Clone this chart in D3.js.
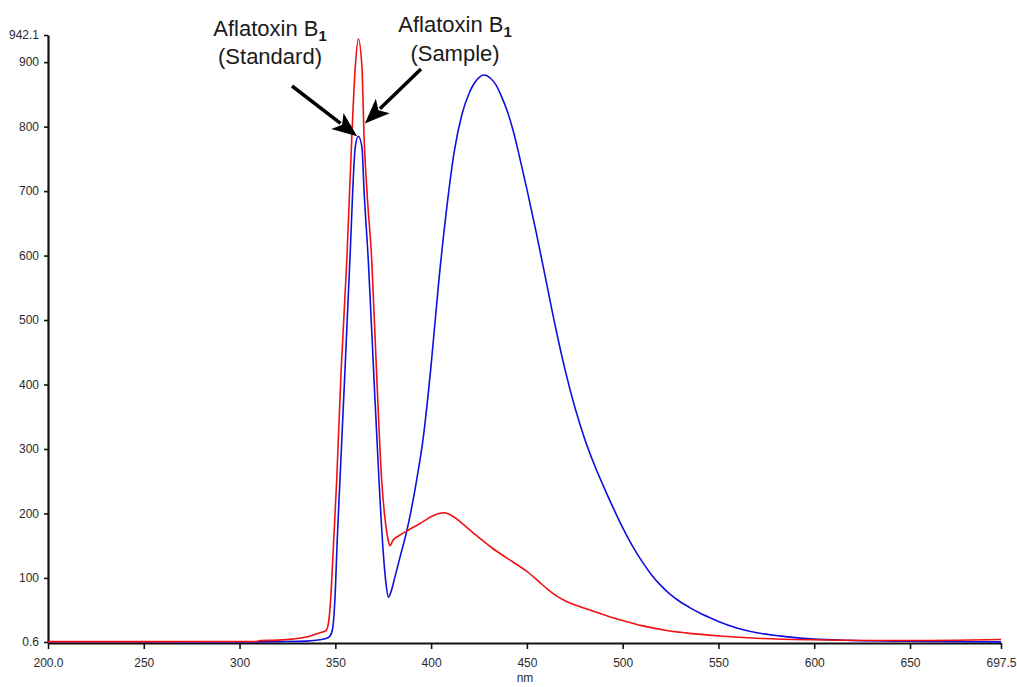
<!DOCTYPE html>
<html>
<head>
<meta charset="utf-8">
<script src="https://cdn.jsdelivr.net/npm/d3@7"></script>
<style>
    body { margin: 0; background: #fff; }
    svg { display: block; }
    .tick text { font-family: "Liberation Sans", Arial, sans-serif; font-size: 12px; fill: #2a2a2a; }
</style>
</head>
<body>
<div id="chart"></div>
<script>
// red trace (sample)
const sampleNm = [200, 250, 300, 309, 311, 320, 330, 337, 342, 345, 346, 347, 348, 349, 350.7, 353, 356, 358.6, 360.4, 362,
    363.9, 365, 366.5, 369, 371.5, 374.2, 376, 377.5, 378.5, 380, 383, 388, 394, 400, 404, 407, 410, 414, 418, 422,
    426, 432, 440, 450, 456, 461, 466, 471, 477, 484, 492, 500, 510, 523, 535, 551, 570, 600, 630, 660, 690, 697.5];
const sampleVal = [1.2, 1.2, 1.3, 1.4, 2.8, 3.5, 6, 10, 15, 18, 24, 45, 90, 150, 251, 420, 593, 784, 892, 936,
    892, 784, 700, 593, 420, 251, 190, 160, 150, 158, 165, 174, 184, 195, 200, 201, 198, 190, 180, 170,
    160, 146, 130, 110, 95, 82, 71, 63, 56, 49, 41, 34, 26, 18.5, 14, 10, 6.5, 4, 3, 3, 4, 4.5];

// blue trace (standard)
const standardNm = [200, 300, 310, 320, 335, 342, 345, 347, 348.5, 350, 351, 352.4, 355, 357.6, 360.4, 362, 363.9, 365, 367.2, 370,
    372.8, 375, 376.5, 377.7, 379, 381, 384, 387, 392.4, 396, 400, 404, 408, 412, 416, 420, 424, 427.6, 431, 434,
    437, 440, 443, 446, 450, 455, 460, 465, 470, 475, 480, 485, 490, 495, 500, 505, 510, 515, 520, 525,
    530, 535, 540, 545, 550, 560, 570, 585, 600, 620, 650, 680, 697.5];
const standardVal = [0.6, 0.6, 0.8, 1.2, 2, 4, 6, 9, 20, 80, 160, 251, 420, 593, 768, 785, 768, 700, 593, 420,
    251, 140, 90, 70, 78, 100, 135, 169, 251, 320, 430, 560, 670, 760, 818, 853, 873, 880, 875, 864,
    845, 822, 792, 755, 703, 634, 561, 488, 422, 365, 317, 277, 242, 209, 178, 150, 126, 105, 88, 74,
    63, 54, 46, 39, 32.5, 22, 15, 9, 5, 3, 1.8, 1, 0.8];

const xTicks = [200, 250, 300, 350, 400, 450, 500, 550, 600, 650, 697.5];
const xTickLabels = ["200.0", "250", "300", "350", "400", "450", "500", "550", "600", "650", "697.5"];
const yTicks = [0.6, 100, 200, 300, 400, 500, 600, 700, 800, 900, 942.1];
const yTickLabels = ["0.6", "100", "200", "300", "400", "500", "600", "700", "800", "900", "942.1"];

// annotations: label lines, arrow tail (px) and tip (data units)
const annotations = [
    {line1: "Aflatoxin B", line2: "(Standard)", cx: 270, y1: 36, y2: 64, tail: [292, 86], tip: [361.4, 785]},
    {line1: "Aflatoxin B", line2: "(Sample)", cx: 455, y1: 32, y2: 61, tail: [421, 69], tip: [365.4, 805]}
];

const width = 1017;
const height = 687;

let svg = d3.select("#chart").append("svg")
    .attr("width", width)
    .attr("height", height);

let x = d3.scaleLinear().domain([200, 697.5]).range([48, 1001]);
let y = d3.scaleLinear().domain([0.6, 942.1]).range([642, 35]);

// axes
svg.append("g")
    .attr("transform", "translate(0,643)")
    .call(d3.axisBottom(x)
        .tickValues(xTicks)
        .tickFormat((d, i) => xTickLabels[i])
        .tickSize(6)
        .tickSizeOuter(0)
        .tickPadding(9));

svg.append("g")
    .attr("transform", "translate(48,0)")
    .call(d3.axisLeft(y)
        .tickValues(yTicks)
        .tickFormat((d, i) => yTickLabels[i])
        .tickSize(4)
        .tickSizeOuter(0)
        .tickPadding(5));

svg.selectAll(".domain").attr("stroke", "#111").attr("stroke-width", 2.2);
svg.selectAll(".tick line").attr("stroke", "#111").attr("stroke-width", 1.6);

svg.append("text")
    .attr("x", 525)
    .attr("y", 682)
    .attr("text-anchor", "middle")
    .attr("font-family", "Liberation Sans, Arial, sans-serif")
    .attr("font-size", 12)
    .attr("fill", "#2a2a2a")
    .text("nm");

// traces
let line = d3.line()
    .x((d) => x(d[0]))
    .y((d) => y(d[1]))
    .curve(d3.curveMonotoneX);

svg.append("path")
    .datum(standardNm.map((d, i) => [d, standardVal[i]]))
    .attr("fill", "none")
    .attr("stroke", "#1010e0")
    .attr("stroke-width", 1.6)
    .attr("d", line);

svg.append("path")
    .datum(sampleNm.map((d, i) => [d, sampleVal[i]]))
    .attr("fill", "none")
    .attr("stroke", "#f01010")
    .attr("stroke-width", 1.6)
    .attr("d", line);

// labels and arrows
for (let a of annotations) {
    let t = svg.append("text")
        .attr("x", a.cx)
        .attr("y", a.y1)
        .attr("text-anchor", "middle")
        .attr("font-family", "Liberation Sans, Arial, sans-serif")
        .attr("font-size", 22)
        .attr("fill", "#1a1a1a");
    t.append("tspan").text(a.line1);
    t.append("tspan").attr("dy", 5).attr("font-size", 15).attr("font-weight", "bold").text("1");

    svg.append("text")
        .attr("x", a.cx)
        .attr("y", a.y2)
        .attr("text-anchor", "middle")
        .attr("font-family", "Liberation Sans, Arial, sans-serif")
        .attr("font-size", 22)
        .attr("fill", "#1a1a1a")
        .text(a.line2);

    let tx = x(a.tip[0]), ty = y(a.tip[1]);
    let dx = tx - a.tail[0], dy = ty - a.tail[1];
    let len = Math.sqrt(dx * dx + dy * dy);
    let ux = dx / len, uy = dy / len;
    let headLen = 25, headW = 10;
    let bx = tx - ux * headLen, by = ty - uy * headLen;

    svg.append("line")
        .attr("x1", a.tail[0]).attr("y1", a.tail[1])
        .attr("x2", bx + ux * 4).attr("y2", by + uy * 4)
        .attr("stroke", "#000")
        .attr("stroke-width", 3.5);

    svg.append("path")
        .attr("d", `M${tx},${ty} L${bx - uy * headW},${by + ux * headW} L${bx + ux * 6},${by + uy * 6} L${bx + uy * headW},${by - ux * headW} Z`)
        .attr("fill", "#000");
}
</script>
</body>
</html>
